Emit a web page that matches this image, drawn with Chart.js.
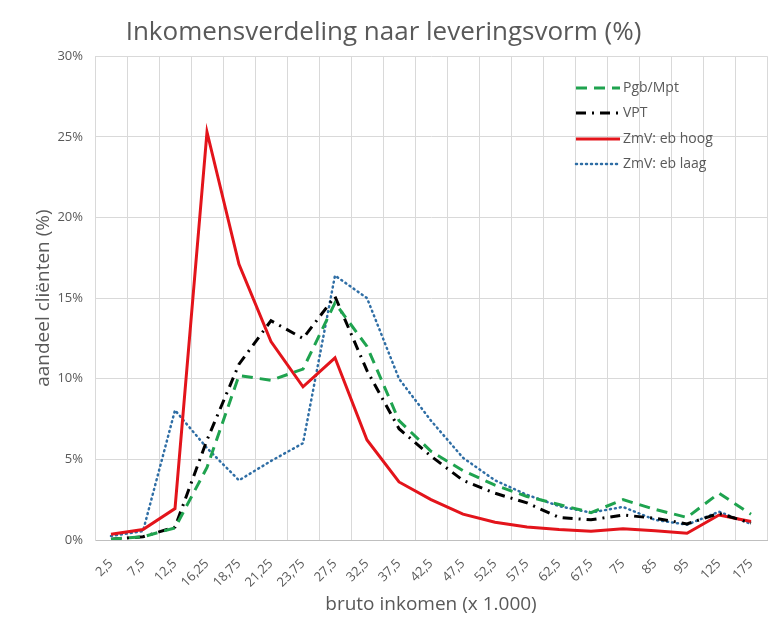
<!DOCTYPE html>
<html>
<head>
<meta charset="utf-8">
<script src="https://cdn.jsdelivr.net/npm/chart.js@4"></script>
<style>
  html, body { margin: 0; padding: 0; background: #fff; }
  #wrap { width: 769px; height: 623px; }
</style>
</head>
<body>
<div id="wrap"><canvas id="incomeChart" width="769" height="623"></canvas></div>
<script>
// bruto inkomen (x 1.000)
const categories = ["2,5", "7,5", "12,5", "16,25", "18,75", "21,25", "23,75", "27,5", "32,5", "37,5",
    "42,5", "47,5", "52,5", "57,5", "62,5", "67,5", "75", "85", "95", "125", "175"];

// aandeel cliënten (%)
const pgbMpt = [0.05, 0.2, 0.75, 4.5, 10.2, 9.9, 10.6, 14.7, 12.0, 7.4, 5.5, 4.3, 3.4, 2.7, 2.2, 1.7, 2.5, 1.9, 1.4, 2.9, 1.6];
const vpt = [0.05, 0.2, 0.8, 6.2, 10.9, 13.6, 12.5, 15.1, 10.5, 6.9, 5.2, 3.7, 2.9, 2.3, 1.4, 1.25, 1.55, 1.35, 1.0, 1.65, 1.05];
const zmvHoog = [0.35, 0.65, 1.95, 25.3, 17.1, 12.3, 9.5, 11.3, 6.2, 3.6, 2.5, 1.6, 1.1, 0.8, 0.65, 0.55, 0.7, 0.57, 0.42, 1.55, 1.15];
const zmvLaag = [0.25, 0.55, 8.05, 5.7, 3.7, 4.9, 6.0, 16.4, 15.0, 10.0, 7.4, 5.1, 3.7, 2.8, 2.1, 1.7, 2.05, 1.25, 0.95, 1.75, 1.0];

const yTicks = [0, 5, 10, 15, 20, 25, 30];

const textColor = "#595959";
Chart.defaults.font.family = "'Open Sans', sans-serif";
Chart.defaults.color = textColor;

// legend drawn inside the plot area, top right
const innerLegend = {
    id: "innerLegend",
    afterDraw(chart) {
        const ctx = chart.ctx;
        const x0 = 576, x1 = 620, tx = 623;
        const rows = [88, 113, 139, 164];
        ctx.save();
        ctx.font = "14px 'Open Sans', sans-serif";
        ctx.textBaseline = "middle";
        chart.data.datasets.forEach((ds, i) => {
            const y = rows[i];
            ctx.strokeStyle = ds.borderColor;
            ctx.lineWidth = ds.borderWidth;
            ctx.lineCap = ds.borderCapStyle || "butt";
            ctx.setLineDash(ds.borderDash || []);
            ctx.beginPath();
            ctx.moveTo(x0, y);
            ctx.lineTo(x1, y);
            ctx.stroke();
            ctx.setLineDash([]);
            ctx.fillStyle = textColor;
            ctx.fillText(ds.label, tx, y);
        });
        ctx.restore();
    }
};

const ctx = document.getElementById("incomeChart").getContext("2d");
new Chart(ctx, {
    type: "line",
    data: {
        labels: categories,
        datasets: [
            {
                label: "Pgb/Mpt",
                data: pgbMpt,
                borderColor: "#1fa34f",
                borderWidth: 3,
                borderDash: [11, 7]
            },
            {
                label: "VPT",
                data: vpt,
                borderColor: "#000000",
                borderWidth: 3,
                borderDash: [10, 6, 2, 6]
            },
            {
                label: "ZmV: eb hoog",
                data: zmvHoog,
                borderColor: "#e3141b",
                borderWidth: 3
            },
            {
                label: "ZmV: eb laag",
                data: zmvLaag,
                borderColor: "#2f6ea5",
                borderWidth: 2.5,
                borderDash: [1, 4],
                borderCapStyle: "round"
            }
        ]
    },
    options: {
        responsive: false,
        animation: false,
        layout: { padding: { top: 0, left: 0, right: 2, bottom: 0 } },
        elements: {
            point: { radius: 0 },
            line: { tension: 0, fill: false }
        },
        plugins: {
            legend: { display: false },
            tooltip: { enabled: false },
            title: {
                display: true,
                text: "Inkomensverdeling naar leveringsvorm (%)",
                color: textColor,
                font: { size: 26, weight: "normal" },
                padding: { top: 17, bottom: 8 }
            }
        },
        scales: {
            x: {
                offset: true,
                grid: { offset: true, color: "#d9d9d9", drawTicks: false },
                border: { color: "#bfbfbf" },
                ticks: {
                    autoSkip: false,
                    minRotation: 45,
                    maxRotation: 45,
                    padding: 16,
                    font: { size: 13 },
                    color: textColor
                },
                title: {
                    display: true,
                    text: "bruto inkomen (x 1.000)",
                    color: textColor,
                    font: { size: 19 },
                    padding: { top: 0, bottom: 7 }
                },
                afterFit(scale) {
                    scale.height = 83;
                    scale.paddingLeft = 0;
                    scale.paddingRight = 0;
                }
            },
            y: {
                min: 0,
                max: 30,
                afterBuildTicks(scale) {
                    scale.ticks = yTicks.map(v => ({ value: v }));
                },
                grid: { color: "#d9d9d9", drawTicks: false },
                border: { color: "#d9d9d9" },
                ticks: {
                    padding: 12,
                    font: { size: 13 },
                    color: textColor,
                    callback: v => v + "%"
                },
                title: {
                    display: true,
                    text: "aandeel cliënten (%)",
                    color: textColor,
                    font: { size: 19 },
                    padding: { top: 32, bottom: 0 }
                },
                afterFit(scale) {
                    scale.width = 95;
                }
            }
        }
    },
    plugins: [innerLegend]
});
</script>
</body>
</html>
